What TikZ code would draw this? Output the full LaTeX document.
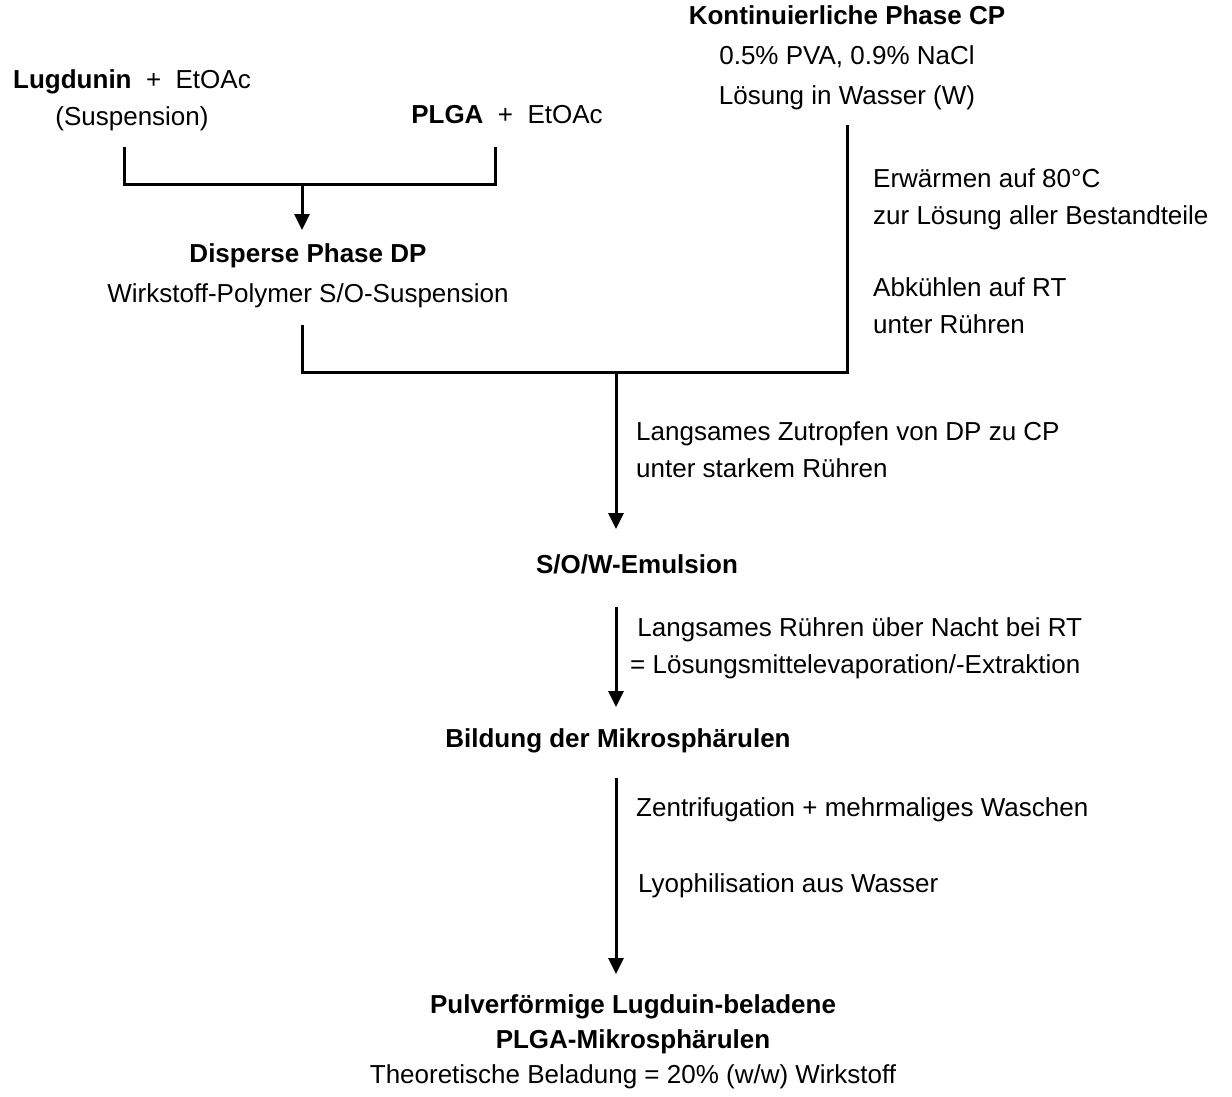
\documentclass[tikz,border=0pt]{standalone}
\usepackage{fontspec}
\setmainfont{Liberation Sans}
\usetikzlibrary{arrows.meta}

\tikzset{
  lbl/.style={font=\fontsize{26}{37}\selectfont, align=center, inner sep=0pt},
  note/.style={font=\fontsize{26}{37}\selectfont, align=left, anchor=west, inner sep=0pt},
  wire/.style={line width=3pt},
  arr/.style={line width=3pt, -{Triangle[length=16pt,width=15pt]}}
}

\begin{document}
\begin{tikzpicture}[x=1pt,y=-1pt]
\useasboundingbox (0,0) rectangle (1232,1097);

% starting materials
\node [lbl] (lug) at (132,100) {\textbf{Lugdunin}~~+~~EtOAc\\(Suspension)};
\node [lbl] (plga) at (507,115) {\textbf{PLGA}~~+~~EtOAc};
\node [lbl, font=\fontsize{26}{40}\selectfont] (cp) at (847,58)
  {\textbf{Kontinuierliche Phase CP}\\0.5\% PVA, 0.9\% NaCl\\Lösung in Wasser (W)};

% disperse phase
\coordinate (l1) at (124,147);
\coordinate (l2) at (495,147);
\coordinate (j1) at (302,185);
\coordinate (d1) at (302,230);
\node [lbl, font=\fontsize{26}{40}\selectfont] (dp) at (308,276)
  {\textbf{Disperse Phase DP}\\Wirkstoff-Polymer S/O-Suspension};

\draw [wire] (l1) |- (j1) -| (l2);
\draw [arr] (j1) -- (d1);

% continuous phase
\coordinate (c1) at (847,125);
\coordinate (c2) at (302,325);
\coordinate (j2) at (616,372);
\node [note] (heat) at (873,199) {Erwärmen auf 80°C\\zur Lösung aller Bestandteile};
\node [note] (cool) at (873,306) {Abkühlen auf RT\\unter Rühren};

\draw [wire] (c2) |- (j2) -| (c1);

% emulsion
\coordinate (e1) at (616,529);
\node [lbl] (sow) at (637,564) {\textbf{S/O/W-Emulsion}};
\node [note] (drip) at (636,450) {Langsames Zutropfen von DP zu CP\\unter starkem Rühren};
\draw [arr] (j2) -- (e1);

% microspheres
\coordinate (m0) at (616,607);
\coordinate (m1) at (616,707);
\node [lbl] (bild) at (618,741) {\textbf{Bildung der Mikrosphärulen}};
\node [note] (stir) at (630,648) {\ Langsames Rühren über Nacht bei RT\\= Lösungsmittelevaporation/-Extraktion};
\draw [arr] (m0) -- (m1);

% product
\coordinate (p0) at (616,778);
\coordinate (p1) at (616,974);
\node [note] (zent) at (636,810) {Zentrifugation + mehrmaliges Waschen};
\node [note] (lyo) at (638,886) {Lyophilisation aus Wasser};
\node [lbl, font=\fontsize{26}{35}\selectfont] (prod) at (633,1042)
  {\textbf{Pulverförmige Lugduin-beladene}\\\textbf{PLGA-Mikrosphärulen}\\Theoretische Beladung = 20\% (w/w) Wirkstoff};
\draw [arr] (p0) -- (p1);

\end{tikzpicture}
\end{document}
